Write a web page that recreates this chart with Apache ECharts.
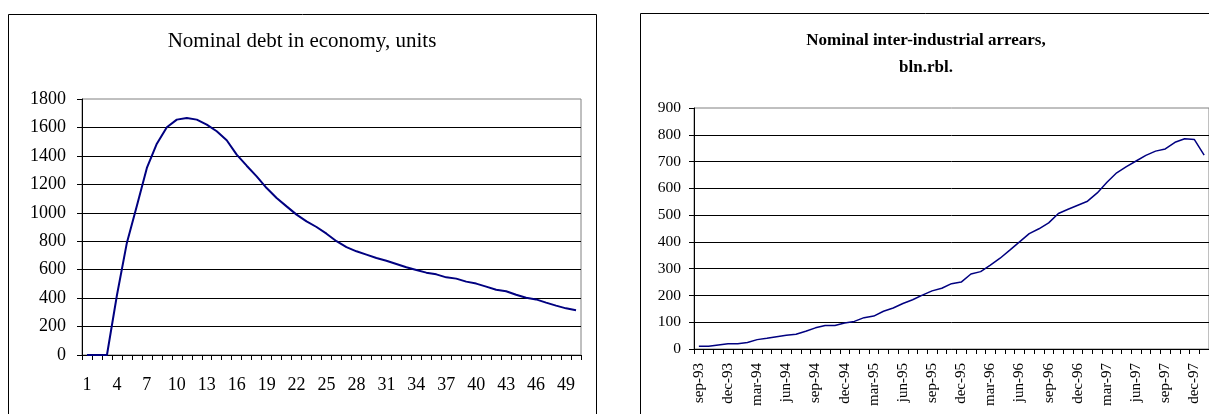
<!DOCTYPE html>
<html>
<head>
<meta charset="utf-8">
<title>Nominal debt and inter-industrial arrears</title>
<script src="https://cdn.jsdelivr.net/npm/echarts@6/dist/echarts.min.js"></script>
<style>
  html, body { margin: 0; padding: 0; background: #fff; }
  #chart { width: 1209px; height: 414px; }
</style>
</head>
<body>
<div id="chart"></div>
<script>
// Model run: nominal debt by period (units)
const periods = [
  '1','2','3','4','5','6','7','8','9','10','11','12','13','14','15','16','17','18','19','20',
  '21','22','23','24','25','26','27','28','29','30','31','32','33','34','35','36','37','38','39','40',
  '41','42','43','44','45','46','47','48','49','50'
];
const debtValues = [
  0, 0, 0, 420, 790, 1050, 1315, 1486, 1601, 1655,
  1667, 1655, 1620, 1573, 1510, 1409, 1331, 1256, 1174, 1104,
  1045, 987, 940, 900, 853, 800, 759, 729, 706, 682,
  663, 640, 617, 598, 579, 567, 546, 537, 516, 502,
  481, 459, 448, 424, 403, 391, 368, 347, 328, 314
];
const debtTicks = [0, 200, 400, 600, 800, 1000, 1200, 1400, 1600, 1800];

// Monthly inter-industrial arrears, bln.rbl.
const months = [
  'sep-93','oct-93','nov-93','dec-93',
  'jan-94','feb-94','mar-94','apr-94','may-94','jun-94','jul-94','aug-94','sep-94','oct-94','nov-94','dec-94',
  'jan-95','feb-95','mar-95','apr-95','may-95','jun-95','jul-95','aug-95','sep-95','oct-95','nov-95','dec-95',
  'jan-96','feb-96','mar-96','apr-96','may-96','jun-96','jul-96','aug-96','sep-96','oct-96','nov-96','dec-96',
  'jan-97','feb-97','mar-97','apr-97','may-97','jun-97','jul-97','aug-97','sep-97','oct-97','nov-97','dec-97',
  'jan-98'
];
const arrearsValues = [
  10, 10, 15, 20,
  20, 24, 35, 40, 46, 51, 55, 66, 79, 88, 88, 97,
  103, 117, 123, 141, 153, 170, 184, 201, 217, 227, 244, 250,
  280, 289, 313, 339, 369, 400, 431, 449, 471, 506, 522, 537,
  552, 583, 623, 658, 681, 702, 723, 739, 747, 772, 785, 782,
  724
];
const arrearsTicks = [0, 100, 200, 300, 400, 500, 600, 700, 800, 900];

const SERIF = "'Liberation Serif', 'Times New Roman', serif";
const INK = '#000';
const LINE = '#000080';

function step(ticks) { return ticks[1] - ticks[0]; }
// plain numbers, no thousands separator
function plain(v) { return String(v); }

const chart = echarts.init(document.getElementById('chart'), null, { renderer: 'canvas' });

chart.setOption({
  animation: false,
  backgroundColor: '#fff',
  textStyle: { fontFamily: SERIF, color: INK },
  graphic: [
    // chart frames
    { type: 'rect', z: 0, silent: true,
      shape: { x: 8.5, y: 14.5, width: 588, height: 430 },
      style: { fill: 'none', stroke: INK, lineWidth: 1 } },
    { type: 'rect', z: 0, silent: true,
      shape: { x: 640.5, y: 13.5, width: 620, height: 430 },
      style: { fill: 'none', stroke: INK, lineWidth: 1 } },
    // titles
    { type: 'text', z: 10, silent: true, x: 302, y: 41,
      style: { text: 'Nominal debt in economy, units', font: '21px ' + SERIF,
               fill: INK, align: 'center', verticalAlign: 'middle' } },
    { type: 'text', z: 10, silent: true, x: 926, y: 54,
      style: { text: 'Nominal inter-industrial arrears,\nbln.rbl.', font: 'bold 17px ' + SERIF,
               fill: INK, align: 'center', verticalAlign: 'middle', lineHeight: 27 } }
  ],
  grid: [
    { left: 82, top: 99, width: 499, height: 256,
      show: true, borderColor: '#808080', borderWidth: 1, backgroundColor: 'transparent' },
    { left: 694, top: 108, width: 516, height: 241,
      show: true, borderColor: '#808080', borderWidth: 1, backgroundColor: 'transparent' }
  ],
  xAxis: [
    { type: 'category', gridIndex: 0, data: periods, boundaryGap: true,
      axisLine: { show: true, lineStyle: { color: INK, width: 1 } },
      axisTick: { show: true, interval: 0, length: 5, lineStyle: { color: INK } },
      axisLabel: { interval: 2, fontSize: 18, margin: 21, color: INK, fontFamily: SERIF },
      splitLine: { show: false } },
    { type: 'category', gridIndex: 1, data: months, boundaryGap: true,
      axisLine: { show: true, lineStyle: { color: INK, width: 1 } },
      axisTick: { show: true, interval: 0, length: 5, lineStyle: { color: INK } },
      axisLabel: { interval: 2, rotate: 90, fontSize: 15, margin: 14, color: INK, fontFamily: SERIF },
      splitLine: { show: false } }
  ],
  yAxis: [
    { type: 'value', gridIndex: 0,
      min: debtTicks[0], max: debtTicks[debtTicks.length - 1], interval: step(debtTicks),
      axisLine: { show: true, lineStyle: { color: INK, width: 1 } },
      axisTick: { show: true, length: 5, lineStyle: { color: INK } },
      axisLabel: { fontSize: 18, margin: 16, color: INK, fontFamily: SERIF, formatter: plain },
      splitLine: { show: true, showMaxLine: false, lineStyle: { color: INK, width: 1 } } },
    { type: 'value', gridIndex: 1,
      min: arrearsTicks[0], max: arrearsTicks[arrearsTicks.length - 1], interval: step(arrearsTicks),
      axisLine: { show: true, lineStyle: { color: INK, width: 1 } },
      axisTick: { show: true, length: 5, lineStyle: { color: INK } },
      axisLabel: { fontSize: 15.5, margin: 13, color: INK, fontFamily: SERIF, formatter: plain },
      splitLine: { show: true, showMaxLine: false, lineStyle: { color: INK, width: 1 } } }
  ],
  series: [
    { name: 'Nominal debt', type: 'line', xAxisIndex: 0, yAxisIndex: 0,
      data: debtValues, symbol: 'none', smooth: false,
      lineStyle: { color: LINE, width: 2 } },
    { name: 'Inter-industrial arrears', type: 'line', xAxisIndex: 1, yAxisIndex: 1,
      data: arrearsValues, symbol: 'none', smooth: false,
      lineStyle: { color: LINE, width: 1.5 } }
  ]
});
</script>
</body>
</html>
